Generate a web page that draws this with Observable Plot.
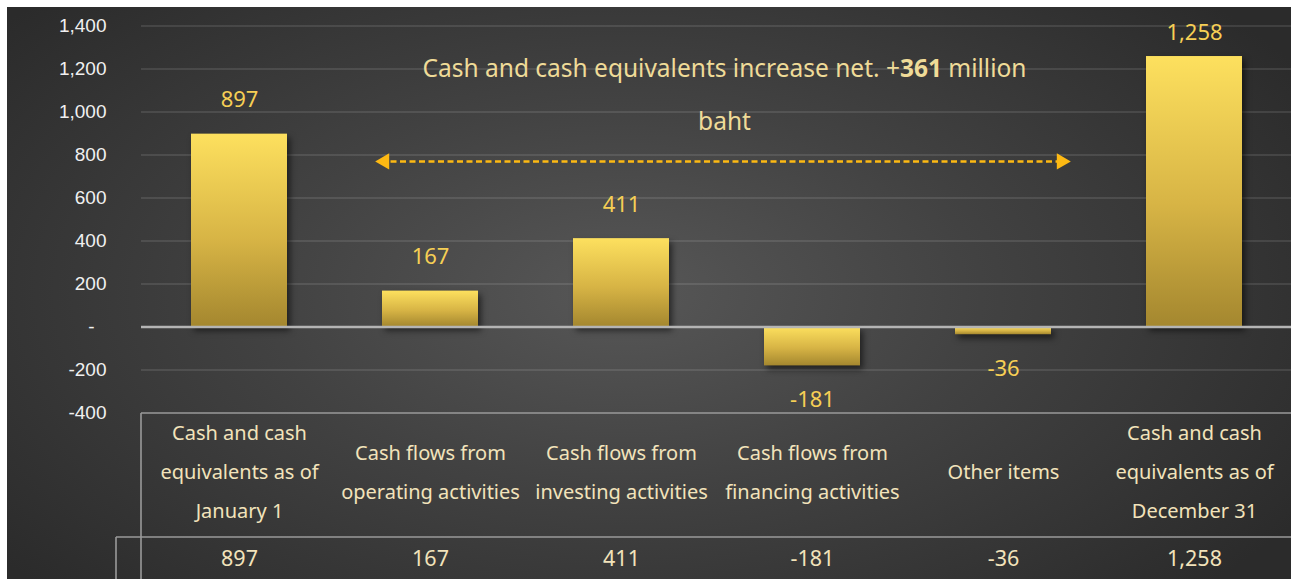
<!DOCTYPE html>
<html><head><meta charset="utf-8">
<script src="https://cdn.jsdelivr.net/npm/d3@7"></script>
<script src="https://cdn.jsdelivr.net/npm/@observablehq/plot@0.6"></script>
<style>
html,body{margin:0;padding:0;background:#fff;width:1291px;height:579px;overflow:hidden}
#bg{position:absolute;left:7px;top:7px;width:1284px;height:572px;
  background:radial-gradient(ellipse 62% 75% at 48% 50%, #575757 0%, #424242 45%, #2b2b2b 100%)}
#chart{position:absolute;left:0;top:0}
#chart svg g[aria-label="bar"] rect{filter:drop-shadow(3px 4px 3px rgba(0,0,0,0.55))}
</style></head><body><div id="bg"></div><div id="chart"></div>
<script>
// ---- data ----
const categories = ["Jan1", "Operating", "Investing", "Financing", "Other", "Dec31"];
const categoryLabels = [
  "Cash and cash\nequivalents as of\nJanuary 1",
  "Cash flows from\noperating activities",
  "Cash flows from\ninvesting activities",
  "Cash flows from\nfinancing activities",
  "Other items",
  "Cash and cash\nequivalents as of\nDecember 31"
];
const values = [897, 167, 411, -181, -36, 1258];
const yTicks = [-400, -200, 0, 200, 400, 600, 800, 1000, 1200, 1400];
const annotationLine1 = ["Cash and cash equivalents increase net. +", "361", " million"];
const annotationLine2 = ["baht"];
const arrowLevel = [770];

const data = categories.map((c, i) => ({category: c, label: categoryLabels[i], value: values[i], last: i === categories.length - 1}));
const fmt = d3.formatLocale({decimal: ".", thousands: ",", grouping: [3], currency: ["", ""], minus: "-"}).format(",");
const labelFont = "Noto Sans, Lato, sans-serif";
const tickFont = "Liberation Sans, Arial, sans-serif";

const plot = Plot.plot({
  width: 1291,
  height: 579,
  marginLeft: 141,
  marginRight: 0,
  marginTop: 25.5,
  marginBottom: 166.5,
  style: {background: "transparent", color: "#f0f0f0", overflow: "visible"},
  x: {domain: categories, paddingInner: 0.5, paddingOuter: 0.25, axis: null},
  y: {domain: [-400, 1400], axis: null},
  marks: [
    Plot.gridY(yTicks.filter(d => d !== 0 && d !== -400), {stroke: "#ffffff", strokeOpacity: 0.1, strokeWidth: 2}),
    Plot.axisY(yTicks.filter(d => d !== 0), {tickSize: 0, tickPadding: 35, tickFormat: fmt, fontSize: 19, fontFamily: tickFont, fill: "#f0f0f0", label: null}),
    Plot.text([{t: "-", v: 0}], {text: "t", y: "v", frameAnchor: "left", textAnchor: "end", dx: -47, fontSize: 19, fontFamily: tickFont, fill: "#f0f0f0"}),
    Plot.barY(data, {x: "category", y1: 0, y2: "value", fill: "url(#barGrad)"}),
    Plot.ruleY([0], {stroke: "#b4b4b4", strokeWidth: 2.5}),
    Plot.text(data.filter(d => d.value >= 0 && !d.last), {x: "category", y: "value", text: d => fmt(d.value), dy: -34, fontSize: 22, fontFamily: labelFont, fill: "#f6cf55"}),
    Plot.text(data.filter(d => d.last), {x: "category", y: "value", text: d => fmt(d.value), dy: -24, fontSize: 22, fontFamily: labelFont, fill: "#f6cf55"}),
    Plot.text(data.filter(d => d.value < 0), {x: "category", y: "value", text: d => fmt(d.value), dy: 34, fontSize: 22, fontFamily: labelFont, fill: "#f6cf55"}),
    Plot.text(data, {x: "category", text: "label", frameAnchor: "bottom", lineAnchor: "middle", dy: 54, lineHeight: 1.95, fontSize: 20, fontFamily: labelFont, fill: "#f2e3bb"}),
    Plot.text(data, {x: "category", text: d => fmt(d.value), frameAnchor: "bottom", lineAnchor: "middle", dy: 146, fontSize: 21.5, fontFamily: labelFont, fill: "#f2e3bb"}),
    Plot.text([annotationLine1.join("")], {frameAnchor: "top", lineAnchor: "middle", dx: 8, dy: 43.5, fontSize: 24.5, fontFamily: labelFont, fill: "#efdb98"}),
    Plot.text(annotationLine2, {frameAnchor: "top", lineAnchor: "middle", dx: 8, dy: 96.5, fontSize: 24.5, fontFamily: labelFont, fill: "#efdb98"}),
    Plot.ruleY(arrowLevel, {stroke: "#fdb913", strokeWidth: 2.5, strokeDasharray: "6,3.5", insetLeft: 240, insetRight: 228}),
    Plot.dot(arrowLevel, {y: d => d, frameAnchor: "left", dx: 243, symbol: "triangle", r: 6, rotate: -90, fill: "#fdb913", stroke: "none"}),
    Plot.dot(arrowLevel, {y: d => d, frameAnchor: "right", dx: -230, symbol: "triangle", r: 6, rotate: 90, fill: "#fdb913", stroke: "none"})
  ]
});

// gradient for bars
const svg = d3.select(plot);
const defs = svg.insert("defs", ":first-child");
const grad = defs.append("linearGradient").attr("id", "barGrad").attr("x1", 0).attr("y1", 0).attr("x2", 0).attr("y2", 1);
grad.append("stop").attr("offset", "0%").attr("stop-color", "#fde05e");
grad.append("stop").attr("offset", "55%").attr("stop-color", "#d7b445");
grad.append("stop").attr("offset", "100%").attr("stop-color", "#a4872f");

// bold number in annotation
svg.selectAll("text").each(function() {
  const t = d3.select(this);
  if (t.text() === annotationLine1.join("")) {
    t.text(null);
    t.append("tspan").text(annotationLine1[0]);
    t.append("tspan").attr("font-weight", "bold").text(annotationLine1[1]);
    t.append("tspan").text(annotationLine1[2]);
  }
});

// table frame lines (derived from the scales)
const ysc = plot.scale("y");
const xsc = plot.scale("x");
const tableTop = ysc.apply(-400) + 0.5;
const tableLeft = xsc.range[0];
const tableRight = 1291;
const rowY = tableTop + 124;
const rowLeft = tableLeft - 25;
const tl = svg.append("g").attr("stroke", "#9a9a9a").attr("stroke-width", 1.6).attr("fill", "none");
tl.append("line").attr("x1", tableLeft).attr("x2", tableRight).attr("y1", tableTop).attr("y2", tableTop);
tl.append("line").attr("x1", tableLeft).attr("x2", tableLeft).attr("y1", tableTop).attr("y2", 579);
tl.append("line").attr("x1", rowLeft).attr("x2", tableRight).attr("y1", rowY).attr("y2", rowY);
tl.append("line").attr("x1", rowLeft).attr("x2", rowLeft).attr("y1", rowY).attr("y2", 579);

document.getElementById("chart").appendChild(plot);
</script>
</body></html>
